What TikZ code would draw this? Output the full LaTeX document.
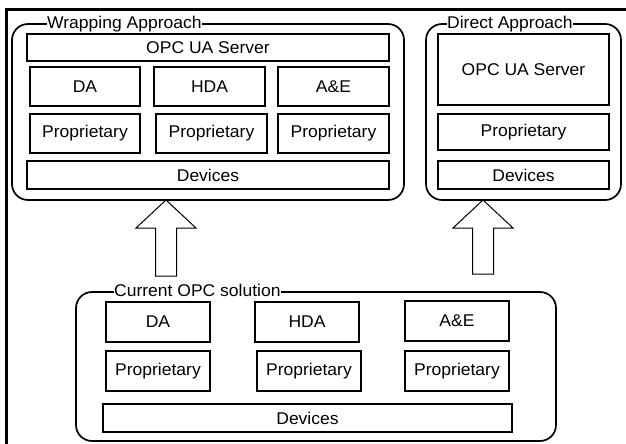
\documentclass[tikz,border=0pt]{standalone}
\usepackage{fontspec}
\setmainfont{Liberation Sans}[FakeStretch=1.03]
\begin{document}
\begin{tikzpicture}[x=1pt,y=-1pt,
  every node/.style={font=\fontsize{17}{20}\selectfont},
  box/.style={draw, line width=1.3pt, inner sep=0pt, rectangle},
  grp/.style={draw, line width=1.7pt, rounded corners=16pt, inner sep=0pt, rectangle},
  gtitle/.style={fill=white, inner xsep=0pt, inner ysep=1pt, anchor=base west},
  blockarrow/.style={draw, line width=1pt, fill=white, line join=miter}]
\useasboundingbox (0,0) rectangle (626,444);
% outer frame
\draw[line width=2.2pt] (6.5,444) -- (6.5,9.5) -- (626,9.5);

% groups
\node[grp, minimum width=392pt, minimum height=176pt] (wrap) at (208,112) {};
\node[grp, minimum width=195pt, minimum height=176pt] (direct) at (523.5,112) {};
\node[grp, minimum width=480pt, minimum height=149pt] (current) at (316,366.5) {};

\node[gtitle] (wraptitle) at (47,28.8) {Wrapping Approach};
\node[gtitle] (directtitle) at (447,28.8) {Direct Approach};
\node[gtitle] (currenttitle) at (114,296.5) {Current OPC solution};

% wrapping approach
\node[box, minimum width=362pt, minimum height=27pt] (wserver) at (208,47.5) {OPC UA Server};
\node[box, minimum width=110pt, minimum height=39pt] (wda) at (85,86.5) {DA};
\node[box, minimum width=111pt, minimum height=39pt] (whda) at (209.5,86.5) {HDA};
\node[box, minimum width=111pt, minimum height=39pt] (wae) at (333.5,86.5) {A\&E};
\node[box, minimum width=110pt, minimum height=39pt] (wp1) at (85,133.5) {Proprietary};
\node[box, minimum width=111pt, minimum height=39pt] (wp2) at (211.5,133.5) {Proprietary};
\node[box, minimum width=111pt, minimum height=39pt] (wp3) at (333.5,133.5) {Proprietary};
\node[box, minimum width=362pt, minimum height=28pt] (wdev) at (208,175) {Devices};

% direct approach
\node[box, minimum width=171pt, minimum height=71pt] (dserver) at (523.5,69.5) {OPC UA Server};
\node[box, minimum width=171pt, minimum height=36pt] (dprop) at (523.5,132) {Proprietary};
\node[box, minimum width=171pt, minimum height=28pt] (ddev) at (523.5,175) {Devices};

% current OPC solution
\node[box, minimum width=104pt, minimum height=40pt] (cda) at (158,322) {DA};
\node[box, minimum width=104pt, minimum height=40pt] (chda) at (307,322) {HDA};
\node[box, minimum width=104pt, minimum height=40pt] (cae) at (457,321) {A\&E};
\node[box, minimum width=104pt, minimum height=40pt] (cp1) at (158,371) {Proprietary};
\node[box, minimum width=104pt, minimum height=40pt] (cp2) at (309,371) {Proprietary};
\node[box, minimum width=104pt, minimum height=40pt] (cp3) at (457,371) {Proprietary};
\node[box, minimum width=409pt, minimum height=28pt] (cdev) at (307.5,418) {Devices};

% block arrows
\coordinate (tipA) at (166,200);
\coordinate (tipB) at (483,200);
\draw[blockarrow] (tipA) -- ++(30,28) -- ++(-19.5,0) -- ++(0,48) -- ++(-21,0) -- ++(0,-48) -- ++(-19.5,0) -- cycle;
\draw[blockarrow] (tipB) -- ++(30,28) -- ++(-19.5,0) -- ++(0,46) -- ++(-21,0) -- ++(0,-46) -- ++(-19.5,0) -- cycle;
\end{tikzpicture}
\end{document}
